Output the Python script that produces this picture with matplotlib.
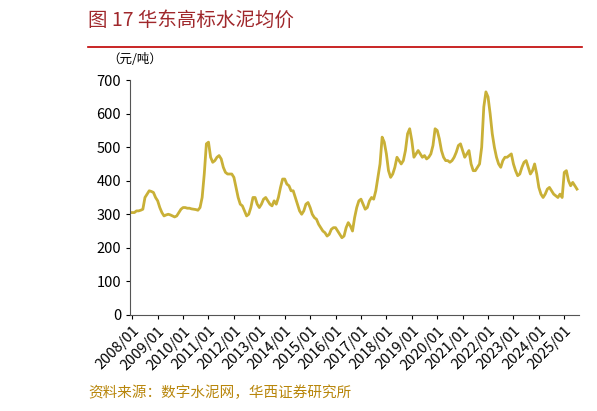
import matplotlib
matplotlib.use("Agg")
import matplotlib.pyplot as plt
import numpy as np
from matplotlib.lines import Line2D

plt.rcParams['font.family'] = ['Noto Sans CJK SC', 'DejaVu Sans']

vals = {
2008: [305,305,310,310,312,315,350,360,370,368,365,350],
2009: [340,320,305,295,298,300,298,295,292,295,305,315],
2010: [320,320,318,318,316,315,314,312,320,350,420,510],
2011: [515,470,455,460,470,475,465,440,425,420,420,420],
2012: [410,380,350,330,325,310,295,300,320,350,350,330],
2013: [320,330,345,350,340,330,325,340,330,350,380,405],
2014: [405,390,385,370,370,350,330,310,300,310,330,335],
2015: [320,300,290,285,270,260,250,245,235,240,255,260],
2016: [260,250,240,230,235,260,275,265,250,290,320,340],
2017: [345,330,315,320,340,350,345,370,410,450,530,515],
2018: [480,430,410,420,440,470,460,450,460,490,540,555],
2019: [520,470,480,490,480,470,475,465,470,480,505,555],
2020: [550,525,490,470,460,460,455,460,470,485,505,510],
2021: [490,470,480,490,450,430,430,440,450,500,620,665],
2022: [650,600,540,500,470,450,440,460,470,470,475,480],
2023: [450,430,415,420,440,455,460,440,420,430,450,420],
2024: [380,360,350,360,375,380,370,360,355,350,360,350],
2025: [425,430,400,385,395,385,375],
}
y = [v for yr in sorted(vals) for v in vals[yr]]
x = np.arange(len(y))
years = list(range(2008, 2026))
tick_labels = [f"{yr}/01" for yr in years]

fig = plt.figure(figsize=(5.97, 4.11), dpi=100)
ax = fig.add_axes([0.218, 0.234, 0.752, 0.571])
ax.plot(x, y, color='#C9B037', lw=2.0)
ax.set_ylim(0, 700)
ax.set_yticks(range(0, 701, 100))
ax.set_xlim(-1, len(y))
ax.set_xticks([12*i for i in range(len(years))])
ax.set_xticklabels(tick_labels, rotation=45, ha='right', rotation_mode='anchor')
for s in ['top', 'right']:
    ax.spines[s].set_visible(False)
for s in ['left', 'bottom']:
    ax.spines[s].set_color('#555555')
ax.tick_params(labelsize=10.5, colors='black', length=3)

fig.text(0.148, 0.95, "图 17 华东高标水泥均价", color='#A0282C', fontsize=14, va='center')
fig.add_artist(Line2D([0.148, 0.975], [0.885, 0.885], color='#C00000', lw=1.2, transform=fig.transFigure))
fig.text(0.18, 0.855, "（元/吨）", fontsize=9, va='center')
fig.text(0.148, 0.045, "资料来源：数字水泥网，华西证券研究所", color='#B8860B', fontsize=10.5, va='center')
fig.savefig("out.png", dpi=100)
